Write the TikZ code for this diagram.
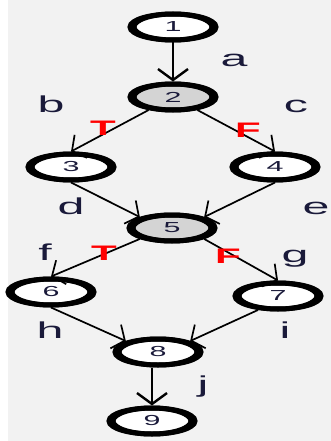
\documentclass[tikz,border=0pt]{standalone}
\usepackage{fontspec}
\usepackage{graphicx}
\setmainfont{Liberation Sans}
\usetikzlibrary{arrows.meta,shapes.geometric}
\definecolor{bg}{HTML}{F2F2F2}
\definecolor{lab}{HTML}{1A1A3A}
\definecolor{grayfill}{HTML}{D4D4D4}
\newcommand{\wide}[2][2.1]{\scalebox{#1}[1]{#2}}
\begin{document}
\begin{tikzpicture}[x=1pt,y=-1pt,
  vnode/.style={ellipse,draw=black,line width=5pt,fill=white,minimum width=86pt,minimum height=26pt,inner sep=0pt,font=\fontsize{14.5}{14.5}\selectfont,text=lab},
  dnode/.style={vnode,fill=grayfill},
  rim/.style={draw=black,line width=5pt},
  edge/.style={draw=black,line width=1.7pt,-{Straight Barb[length=10pt,width=26pt,line width=1.7pt]}},
  thick edge/.style={edge,line width=2.8pt,-{Straight Barb[length=11pt,width=30pt,line width=2.4pt]}},
  lbl/.style={font=\fontsize{23}{23}\selectfont,text=lab,inner sep=0pt,anchor=base},
  tf/.style={font=\fontsize{21}{21}\selectfont\bfseries,text=red,inner sep=0pt,anchor=base}
]
\useasboundingbox (0,0) rectangle (331,441);
\fill[white] (0,0) rectangle (331,441);
\fill[bg] (8,0) rectangle (331,441);
\node[vnode] (n1) at (173,27) {\wide{1}};
\node[dnode] (n2) at (173,97) {\wide{2}};
\node[vnode] (n3) at (71,167) {\wide{3}};
\node[vnode] (n4) at (275,167) {\wide{4}};
\node[dnode] (n5) at (172,228) {\wide{5}};
\node[vnode] (n6) at (51,292) {\wide{6}};
\node[vnode] (n7) at (278,296) {\wide{7}};
\node[vnode] (n8) at (158,352) {\wide{8}};
\node[vnode] (n9) at (152,421) {\wide{9}};
\foreach \n in {n1,n2,n3,n4,n5,n6,n7,n8,n9}
  \draw[rim] (\n.center) ellipse [x radius=39pt, y radius=13pt];
\draw[thick edge] (n1.south) -- (n2.north);
\draw[edge] (n2) -- (n3.north);
\draw[edge] (n2) -- (n4.north);
\draw[edge] (n3.south) -- (n5.north west);
\draw[edge] (n4.south) -- (n5.north east);
\draw[edge] (n5.south west) -- (n6.north);
\draw[edge] (n5.south east) -- (n7.north);
\draw[edge] (n6.south) -- (n8.north west);
\draw[edge] (n7.215) -- (n8.north east);
\draw[thick edge] (n8.south -| n9) -- (n9.north);
\node[lbl] (la) at (234,67) {\wide{a}};
\node[lbl] (lb) at (51,113) {\wide{b}};
\node[lbl] (lc) at (296,113) {\wide{c}};
\node[tf] (t1) at (103,135) {\wide[2]{T}};
\node[tf] (f1) at (248,137) {\wide[2]{F}};
\node[lbl] (ld) at (71,214) {\wide{d}};
\node[lbl] (le) at (316,214) {\wide{e}};
\node[lbl] (lf) at (45,260) {\wide{f}};
\node[tf] (t2) at (104,260) {\wide[2]{T}};
\node[tf] (f2) at (228,263) {\wide[2]{F}};
\node[lbl] (lg) at (295,262) {\wide{g}};
\node[lbl] (lh) at (50,338) {\wide{h}};
\node[lbl] (li) at (285,338) {\wide{i}};
\node[lbl] (lj) at (203,392) {\wide{j}};
\end{tikzpicture}
\end{document}
